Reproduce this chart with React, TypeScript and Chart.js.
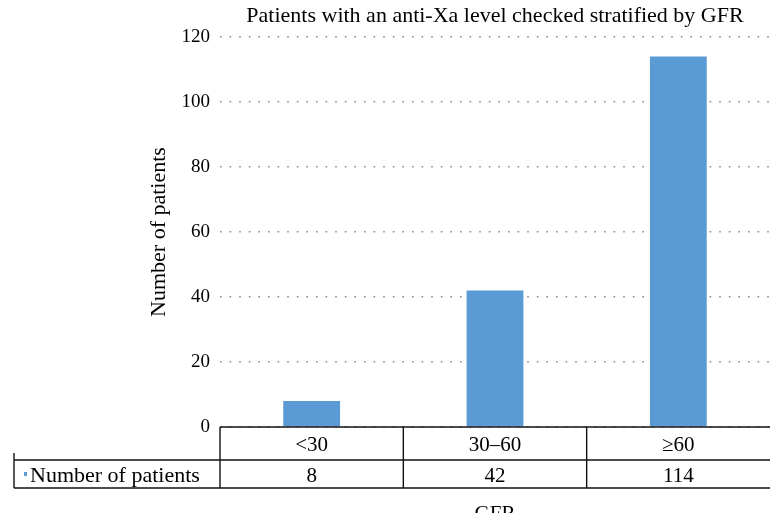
import React, { useEffect, useRef } from 'react';
import { Chart, registerables } from 'chart.js';

Chart.register(...registerables);

const categories = ['<30', '30–60', '≥60'];
const seriesName = 'Number of patients';
const values = [8, 42, 114];
const yMin = 0;
const yMax = 120;
const yStep = 20;
const chartTitle = 'Patients with an anti-Xa level checked stratified by GFR';
const xTitle = 'GFR';
const yTitle = 'Number of patients';

const FONT = "'Liberation Serif', 'DejaVu Serif', serif";
const BAR_COLOR = '#5B9BD5';

const tablePlugin = {
  id: 'dataTable',
  afterDraw(chart: any) {
    const ctx = chart.ctx as CanvasRenderingContext2D;
    const { left, right, bottom } = chart.chartArea;
    const xs = chart.scales.x;
    const row1 = 33;
    const row2 = 28;
    const n = categories.length;
    const colW = (right - left) / n;
    const tableLeft = 14;
    ctx.save();
    ctx.strokeStyle = '#111';
    ctx.lineWidth = 1.4;
    const line = (x1: number, y1: number, x2: number, y2: number) => {
      ctx.beginPath();
      ctx.moveTo(x1, y1);
      ctx.lineTo(x2, y2);
      ctx.stroke();
    };
    line(left, bottom, right, bottom);
    line(tableLeft, bottom + row1, right, bottom + row1);
    line(tableLeft, bottom + row1 + row2, right, bottom + row1 + row2);
    line(tableLeft, bottom + row1 - 7, tableLeft, bottom + row1 + row2);
    for (let i = 0; i < n; i++) {
      line(left + i * colW, bottom, left + i * colW, bottom + row1 + row2);
    }
    ctx.fillStyle = '#000';
    ctx.font = `21px ${FONT}`;
    ctx.textAlign = 'center';
    ctx.textBaseline = 'middle';
    for (let i = 0; i < n; i++) {
      const cx = xs.getPixelForValue(i);
      ctx.fillText(categories[i], cx, bottom + row1 / 2 + 2);
      ctx.fillText(String(values[i]), cx, bottom + row1 + row2 / 2 + 2);
    }
    // legend key + series name
    ctx.fillStyle = BAR_COLOR;
    ctx.fillRect(24, bottom + row1 + row2 / 2 - 2, 3, 4);
    ctx.fillStyle = '#000';
    ctx.textAlign = 'left';
    ctx.font = `22px ${FONT}`;
    ctx.fillText(seriesName, 30, bottom + row1 + row2 / 2 + 2);
    // x title (cropped at bottom like the reference)
    ctx.font = `21px ${FONT}`;
    ctx.textAlign = 'center';
    ctx.fillText(xTitle, (left + right) / 2, bottom + row1 + row2 + 26);
    ctx.fillStyle = '#fff';
    ctx.fillRect(0, 513, chart.width, chart.height - 513);
    // chart title
    ctx.fillStyle = '#000';
    ctx.font = `22px ${FONT}`;
    ctx.fillText(chartTitle, (left + right) / 2, 16);
    ctx.restore();
  },
};

export default function App() {
  const ref = useRef<HTMLCanvasElement>(null);
  useEffect(() => {
    if (!ref.current) return;
    const chart = new Chart(ref.current, {
      type: 'bar',
      data: {
        labels: categories,
        datasets: [
          {
            label: seriesName,
            data: values,
            backgroundColor: BAR_COLOR,
            borderWidth: 0,
            barPercentage: 0.31,
            categoryPercentage: 1,
          },
        ],
      },
      options: {
        animation: false,
        responsive: false,
        maintainAspectRatio: false,
        layout: { padding: { left: 0, right: 14, top: 37, bottom: 101 } },
        plugins: {
          legend: { display: false },
          title: { display: false },
          tooltip: { enabled: false },
        },
        scales: {
          x: { display: false },
          y: {
            min: yMin,
            max: yMax,
            afterFit: (scale: any) => {
              scale.width = 220;
            },
            border: { display: false, dash: [1.6, 8] },
            grid: {
              color: '#8c8c8c',
              lineWidth: 1.6,
              drawTicks: false,
            },
            ticks: {
              stepSize: yStep,
              padding: 10,
              color: '#000',
              font: { family: FONT, size: 19 },
            },
            title: {
              display: true,
              text: yTitle,
              color: '#000',
              font: { family: FONT, size: 22 },
              padding: { top: 146, bottom: 0 },
            },
          },
        },
      } as any,
      plugins: [tablePlugin],
    });
    return () => chart.destroy();
  }, []);
  return (
    <div style={{ position: 'fixed', left: 0, top: 0, width: 784, height: 528, background: '#fff' }}>
      <canvas ref={ref} width={784} height={528} />
    </div>
  );
}
